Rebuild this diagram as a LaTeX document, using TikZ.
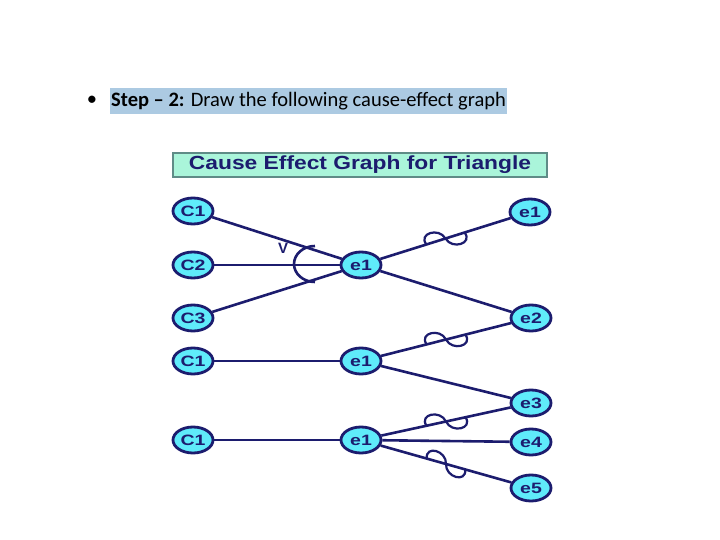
\documentclass[tikz,border=0pt]{standalone}
\usepackage{fontspec}
\setmainfont{Carlito}
\newfontfamily\arialb{Liberation Sans}
\usetikzlibrary{shapes.geometric,decorations.markings}
\definecolor{navy}{RGB}{28,28,110}
\definecolor{cyanfill}{RGB}{95,235,250}
\definecolor{mint}{RGB}{170,245,218}
\definecolor{mintborder}{RGB}{95,140,135}
\definecolor{hl}{RGB}{172,202,226}
\newcommand{\glab}[1]{\scalebox{1.3}[1]{#1}}
\tikzset{
  gnode/.style={ellipse, draw=navy, line width=2.8pt, fill=cyanfill, minimum width=40pt, minimum height=26pt, inner sep=0pt, text=navy, font=\arialb\bfseries\fontsize{15}{15}\selectfont},
  conn/.style={draw=navy, line width=2.6pt},
  notconn/.style={conn, postaction={decorate}, decoration={markings, mark=at position 0.5 with {\draw[navy, line width=2.2pt] (-20pt,0pt) .. controls (-25pt,13pt) and (-3pt,13pt) .. (0pt,0pt) .. controls (3pt,-13pt) and (25pt,-13pt) .. (20pt,0pt);}}}
}
\begin{document}
\begin{tikzpicture}[x=1pt,y=1pt]
\useasboundingbox (0,0) rectangle (720,-540);
\fill[white] (0,0) rectangle (720,-540);
% heading
\node (bul) at (92,-101) {\fontsize{20.5}{20.5}\selectfont •};
\node[anchor=west, fill=hl, inner xsep=1pt, inner ysep=0pt, minimum height=26pt, font=\fontsize{20.5}{20.5}\selectfont] (head) at (110,-101) {\textbf{Step – 2:} Draw the following cause-effect graph};
% title box
\node[draw=mintborder, line width=1.2pt, fill=mint, minimum width=374pt, minimum height=24pt, inner sep=0pt, text=navy, font=\arialb\bfseries\fontsize{19}{19}\selectfont] (title) at (360,-165) {\scalebox{1.2}[1]{Cause Effect Graph for Triangle}};
% nodes
\node[gnode] (c1a) at (193,-211) {\glab{C1}};
\node[gnode] (c2) at (193,-265) {\glab{C2}};
\node[gnode] (c3) at (193,-318) {\glab{C3}};
\node[gnode] (e1a) at (361,-265) {\glab{e1}};
\node[gnode] (r1) at (530,-212) {\glab{e1}};
\node[gnode] (r2) at (531,-318) {\glab{e2}};
\node[gnode] (c1b) at (193,-361) {\glab{C1}};
\node[gnode] (e1b) at (361,-361) {\glab{e1}};
\node[gnode] (r3) at (531,-403) {\glab{e3}};
\node[gnode] (c1c) at (193,-440) {\glab{C1}};
\node[gnode] (e1c) at (361,-440) {\glab{e1}};
\node[gnode] (r4) at (531,-442) {\glab{e4}};
\node[gnode] (r5) at (531,-488) {\glab{e5}};
% connectors
\draw[conn] (c1a) -- (e1a);
\draw[conn] (c2) -- (e1a);
\draw[conn] (c3) -- (e1a);
\draw[notconn] (e1a) -- (r1);
\draw[conn] (e1a) -- (r2);
\draw[conn] (c1b) -- (e1b);
\draw[notconn] (e1b) -- (r2);
\draw[conn] (e1b) -- (r3);
\draw[conn] (c1c) -- (e1c);
\draw[notconn] (e1c) -- (r3);
\draw[conn] (e1c) -- (r4);
\draw[notconn] (e1c) -- (r5);
% or arc
\draw[navy, line width=2.6pt] (315,-246) arc[start angle=90, end angle=270, x radius=21, y radius=18];
\node[text=navy, font=\arialb\bfseries\fontsize{15}{15}\selectfont] (vlab) at (283,-248) {V};
\end{tikzpicture}
\end{document}
